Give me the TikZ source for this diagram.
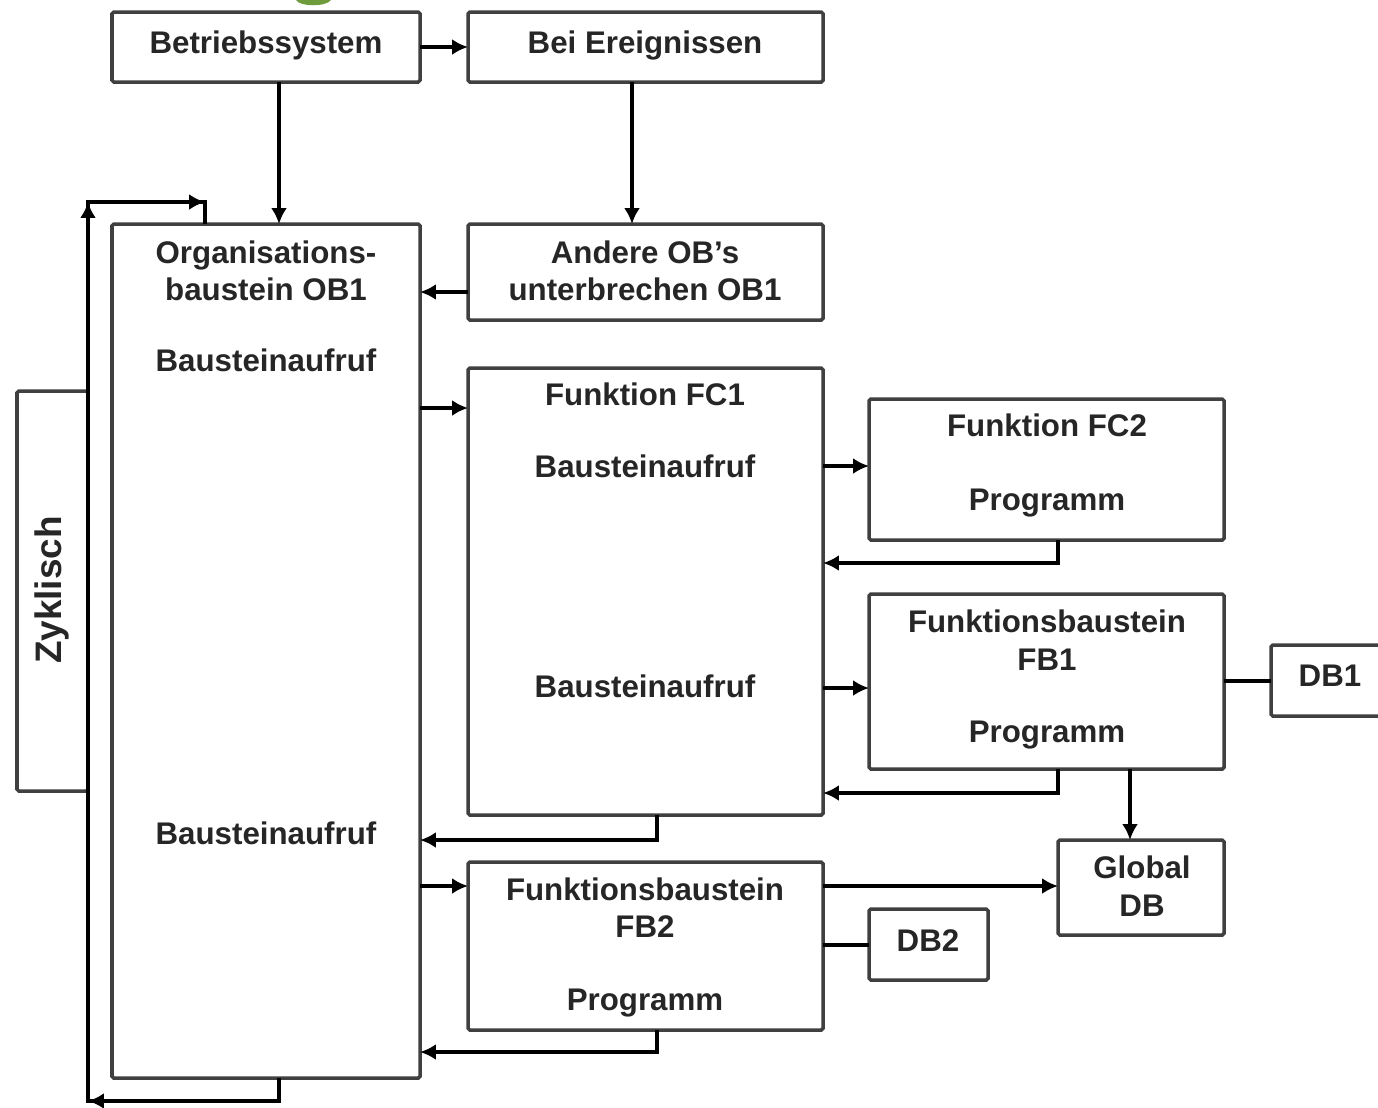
\documentclass[tikz,border=0pt]{standalone}
\usepackage{fontspec}
\setmainfont{Liberation Sans}
\usetikzlibrary{arrows.meta,calc}
\definecolor{boxgray}{HTML}{404040}
\definecolor{txtgray}{HTML}{262626}
\definecolor{leafgreen}{HTML}{6E9B3C}
\newcommand\lbfont{\fontsize{17.8}{21}\selectfont\bfseries}
\newcommand\zykfont{\fontsize{21}{25}\selectfont\bfseries}
% box: name, left, top, right, bottom (pixel-like units)
\newcommand\bx[5]{\node[box, minimum width={(#4-#2)*0.02cm}, minimum height={(#5-#3)*0.02cm}] (#1) at (#2,#3) {};}
\begin{document}
\begin{tikzpicture}[x=0.02cm,y=-0.02cm,
  box/.style={draw=boxgray, line width=2pt, rounded corners=1pt, inner sep=0pt, outer sep=0pt, anchor=north west},
  lbl/.style={font=\lbfont, text=txtgray, inner sep=0pt, anchor=base},
  conn/.style={line width=2.2pt, draw=black},
  arr/.style={conn, -{Latex[length=9pt,width=9pt]}}]
\useasboundingbox (0,0) rectangle (1378,1107);
\clip (0,0) rectangle (1378,1107);
\fill[white] (0,0) rectangle (1378,1107);

% fragment of a green letter at the top edge
\fill[leafgreen] (296,0) .. controls (300,7) and (326,7) .. (331,0) -- cycle;

% blocks
\bx{bs}{112}{12}{420}{82}
\bx{be}{468}{12}{823}{82}
\bx{ob1}{112}{224}{420}{1078}
\bx{and}{468}{224}{823}{320}
\bx{fc1}{468}{368}{823}{815}
\bx{fc2}{869}{399}{1224}{540}
\bx{fb1}{869}{594}{1224}{769}
\bx{db1}{1271}{645}{1395}{716}
\bx{gdb}{1058}{840}{1224}{935}
\bx{fb2}{468}{862}{823}{1030}
\bx{db2}{869}{909}{988}{980}
\bx{zyk}{17}{391}{88}{791}

% texts
\node[lbl] (tbs) at (266,53) {Betriebssystem};
\node[lbl] (tbe) at (645,53) {Bei Ereignissen};
\node[lbl] (tob1a) at (266,263) {Organisations-};
\node[lbl] (tob1b) at (266,300) {baustein OB1};
\node[lbl] (tob1c) at (266,371) {Bausteinaufruf};
\node[lbl] (tob1d) at (266,844) {Bausteinaufruf};
\node[lbl] (tanda) at (645,263) {Andere OB’s};
\node[lbl] (tandb) at (645,300) {unterbrechen OB1};
\node[lbl] (tfc1a) at (645,405) {Funktion FC1};
\node[lbl] (tfc1b) at (645,477) {Bausteinaufruf};
\node[lbl] (tfc1c) at (645,697) {Bausteinaufruf};
\node[lbl] (tfc2a) at (1047,436) {Funktion FC2};
\node[lbl] (tfc2b) at (1047,510) {Programm};
\node[lbl] (tfb1a) at (1047,632) {Funktionsbaustein};
\node[lbl] (tfb1b) at (1047,670) {FB1};
\node[lbl] (tfb1c) at (1047,742) {Programm};
\node[lbl] (tdb1) at (1330,686) {DB1};
\node[lbl] (tgdba) at (1142,878) {Global};
\node[lbl] (tgdbb) at (1142,916) {DB};
\node[lbl] (tfb2a) at (645,900) {Funktionsbaustein};
\node[lbl] (tfb2b) at (645,937) {FB2};
\node[lbl] (tfb2c) at (645,1010) {Programm};
\node[lbl] (tdb2) at (928,951) {DB2};
\node[font=\zykfont, text=txtgray, inner sep=0pt, rotate=90] (tzyk) at (52,590) {Zyklisch};

% routing points
\coordinate (xbs) at (279,0);
\coordinate (xbe) at (632,0);
\coordinate (yand) at (0,292);
\coordinate (yfc1) at (0,408);
\coordinate (yfc2) at (0,466);
\coordinate (yfc2r) at (0,563);
\coordinate (yfb1) at (0,688);
\coordinate (yfb1r) at (0,793);
\coordinate (xret) at (1058,0);
\coordinate (xgdb) at (1130,0);
\coordinate (yfc1r) at (0,840);
\coordinate (yfb2) at (0,886);
\coordinate (ydb2) at (0,945);
\coordinate (xfc1r) at (657,0);
\coordinate (yfb2r) at (0,1052);
\coordinate (yob1) at (0,681);
\coordinate (loopA) at (88,1101);
\coordinate (loopB) at (88,202);
\coordinate (loopC) at (205,202);

% connectors
\draw[arr] (bs.east |- 0,47) -- (be.west |- 0,47);
\draw[arr] (bs.south -| xbs) -- (ob1.north -| xbs);
\draw[arr] (be.south -| xbe) -- (and.north -| xbe);
\draw[arr] (and.west |- yand) -- (ob1.east |- yand);
\draw[arr] (ob1.east |- yfc1) -- (fc1.west |- yfc1);
\draw[arr] (fc1.east |- yfc2) -- (fc2.west |- yfc2);
\draw[arr] (fc2.south -| xret) |- (fc1.east |- yfc2r);
\draw[arr] (fc1.east |- yfb1) -- (fb1.west |- yfb1);
\draw[arr] (fb1.south -| xret) |- (fc1.east |- yfb1r);
\draw[conn] (fb1.east |- yob1) -- (db1.west |- yob1);
\draw[arr] (fb1.south -| xgdb) -- (gdb.north -| xgdb);
\draw[arr] (fc1.south -| xfc1r) |- (ob1.east |- yfc1r);
\draw[arr] (ob1.east |- yfb2) -- (fb2.west |- yfb2);
\draw[arr] (fb2.east |- yfb2) -- (gdb.west |- yfb2);
\draw[conn] (fb2.east |- ydb2) -- (db2.west |- ydb2);
\draw[arr] (fb2.south -| xfc1r) |- (ob1.east |- yfb2r);

% cyclic loop around OB1
\draw[conn, line join=miter] (ob1.south -| xbs) |- (loopA) -- (loopB) -- (loopC) -- (ob1.north -| loopC);
\draw[arr] ($(loopA)+(40,0)$) -- (loopA);
\draw[arr] ($(loopB)+(0,40)$) -- (loopB);
\draw[arr] ($(loopC)+(-40,0)$) -- (loopC);
\end{tikzpicture}
\end{document}
